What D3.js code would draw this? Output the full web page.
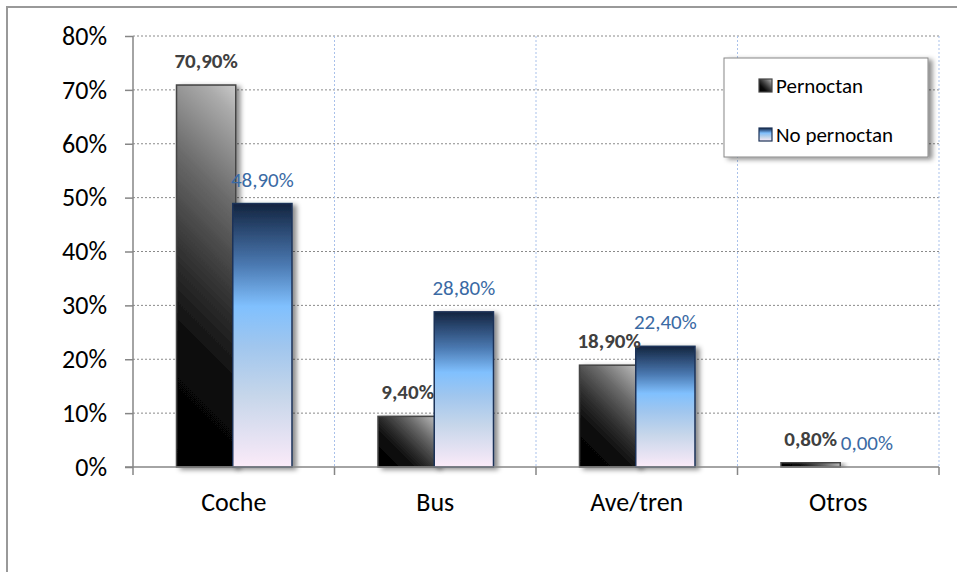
<!DOCTYPE html>
<html>
<head>
<meta charset="utf-8">
<script src="https://cdn.jsdelivr.net/npm/d3@7"></script>
<style>
	body { margin: 0; background: #fff; }
	svg { display: block; font-family: Carlito, Lato, "Open Sans", sans-serif; }
</style>
</head>
<body>
<svg width="957" height="572"></svg>
<script>
// data.......................................................................

var categories = ["Coche", "Bus", "Ave/tren", "Otros"],
	seriesNames = ["Pernoctan", "No pernoctan"],
	pernoctan = [0.709, 0.094, 0.189, 0.008],
	noPernoctan = [0.489, 0.288, 0.224, 0.000],
	yTicks = [0, 0.1, 0.2, 0.3, 0.4, 0.5, 0.6, 0.7, 0.8];

// setup......................................................................

var svg = d3.select("svg"),
	plotLeft = 133, plotRight = 939, plotTop = 36, plotBottom = 467,
	pctFmt = function(v) { return d3.format(".2f")(v * 100).replace(".", ",") + "%"; };

var x = d3.scaleBand().domain(categories).range([plotLeft, plotRight]),
	y = d3.scaleLinear().domain([0, 0.8]).range([plotBottom, plotTop]),
	bw = x.bandwidth() * 0.294;

var greyStops = [[0, "#cacaca"], [0.07, "#ababab"], [0.28, "#6a6a6a"], [0.5, "#333"],
		[0.7, "#0a0a0a"], [1, "#000"]],
	blueStops = [[0, "#13243f"], [0.1, "#2b4972"], [0.23, "#4a78b0"], [0.39, "#80c0fe"],
		[0.54, "#a0c6ee"], [0.73, "#c6d6ea"], [0.92, "#ebe4f4"], [1, "#fbebf8"]];

var defs = svg.append("defs");

function addStops(grad, stops) {
	stops.forEach(function(s) {
		grad.append("stop").attr("offset", s[0]).attr("stop-color", s[1]);
	});
}

// legend swatch gradients (square, bounding box)
addStops(defs.append("linearGradient").attr("id", "gradGrey")
	.attr("x1", 1).attr("y1", 0).attr("x2", 0).attr("y2", 1), greyStops);
addStops(defs.append("linearGradient").attr("id", "gradBlue")
	.attr("x1", 0).attr("y1", 0).attr("x2", 0).attr("y2", 1), blueStops);

function pernX(d) { return x(d) + x.bandwidth() / 2 - bw + 2; }
function noPernX(d) { return x(d) + x.bandwidth() / 2 - 1; }

// grey bars: fixed 45 degree gradient from top-right to bottom-left corner
categories.forEach(function(d, i) {
	var x0 = pernX(d), y0 = y(pernoctan[i]), h = plotBottom - y0, s = (bw + h) / 2;
	addStops(defs.append("linearGradient").attr("id", "gradGrey" + i)
		.attr("gradientUnits", "userSpaceOnUse")
		.attr("x1", x0 + bw).attr("y1", y0)
		.attr("x2", x0 + bw - s).attr("y2", y0 + s), greyStops);
});

var shadow = defs.append("filter").attr("id", "shadow")
	.attr("x", "-20%").attr("y", "-10%").attr("width", "160%").attr("height", "130%");
shadow.append("feDropShadow")
	.attr("dx", 4).attr("dy", 2).attr("stdDeviation", 2.5)
	.attr("flood-color", "#000").attr("flood-opacity", 0.45);

// outer frame
svg.append("rect")
	.attr("x", 7).attr("y", 7).attr("width", 1000).attr("height", 600)
	.attr("fill", "none").attr("stroke", "#999").attr("stroke-width", 2);

// gridlines..................................................................

svg.append("g").selectAll("line")
	.data(yTicks.slice(1))
	.enter().append("line")
		.attr("x1", plotLeft).attr("x2", plotRight)
		.attr("y1", function(d) { return y(d); })
		.attr("y2", function(d) { return y(d); })
		.attr("stroke", "#8a8a8a").attr("stroke-dasharray", "2,2");

svg.append("g").selectAll("line")
	.data(categories)
	.enter().append("line")
		.attr("x1", function(d) { return x(d) + x.bandwidth(); })
		.attr("x2", function(d) { return x(d) + x.bandwidth(); })
		.attr("y1", plotTop).attr("y2", plotBottom)
		.attr("stroke", "#a9c1ea").attr("stroke-dasharray", "2,2");

// bars.......................................................................

var groups = svg.append("g").selectAll("g")
	.data(categories)
	.enter().append("g");

groups.append("rect")
	.attr("x", pernX)
	.attr("y", function(d, i) { return y(pernoctan[i]); })
	.attr("width", bw)
	.attr("height", function(d, i) { return plotBottom - y(pernoctan[i]); })
	.attr("fill", function(d, i) { return "url(#gradGrey" + i + ")"; })
	.attr("stroke", "#444").attr("stroke-width", 1.5)
	.attr("filter", "url(#shadow)");

groups.append("rect")
	.attr("x", noPernX)
	.attr("y", function(d, i) { return y(noPernoctan[i]); })
	.attr("width", bw)
	.attr("height", function(d, i) { return plotBottom - y(noPernoctan[i]); })
	.attr("fill", "url(#gradBlue)")
	.attr("stroke", "#1c3358").attr("stroke-width", 1.5)
	.attr("filter", "url(#shadow)")
	.style("display", function(d, i) { return noPernoctan[i] > 0 ? null : "none"; });

// labels
groups.append("text")
	.attr("x", function(d) { return pernX(d) + bw / 2; })
	.attr("y", function(d, i) { return y(pernoctan[i]) - 17; })
	.attr("text-anchor", "middle")
	.attr("font-size", 21).attr("font-weight", "bold")
	.attr("fill", "#404040")
	.text(function(d, i) { return pctFmt(pernoctan[i]); });

groups.append("text")
	.attr("x", function(d) { return noPernX(d) + bw / 2; })
	.attr("y", function(d, i) { return y(noPernoctan[i]) - 17; })
	.attr("text-anchor", "middle")
	.attr("font-size", 21)
	.attr("fill", "#3a6aa4")
	.text(function(d, i) { return pctFmt(noPernoctan[i]); });

// axes.......................................................................

var yAxis = svg.append("g")
	.attr("transform", "translate(" + plotLeft + ",0)")
	.call(d3.axisLeft(y).tickValues(yTicks).tickSize(8).tickPadding(18)
		.tickFormat(d3.format(".0%")));

var xAxis = svg.append("g")
	.attr("transform", "translate(0," + plotBottom + ")")
	.call(d3.axisBottom(x).tickSize(0).tickPadding(26));

xAxis.selectAll(".tick").append("line")
	.attr("x1", x.bandwidth() / 2).attr("x2", x.bandwidth() / 2)
	.attr("y1", 0).attr("y2", 8)
	.attr("stroke", "#868686").attr("stroke-width", 1.5);

[yAxis, xAxis].forEach(function(a) {
	a.select(".domain").remove();
	a.selectAll(".tick line").attr("stroke", "#868686").attr("stroke-width", 1.5);
	a.selectAll("text").attr("font-size", 26).attr("fill", "#000")
		.style("font-family", "Carlito, Lato, sans-serif");
});

svg.append("line")
	.attr("x1", plotLeft).attr("x2", plotLeft).attr("y1", plotTop).attr("y2", plotBottom + 8)
	.attr("stroke", "#868686").attr("stroke-width", 1.5);
svg.append("line")
	.attr("x1", plotLeft - 8).attr("x2", plotRight).attr("y1", plotBottom).attr("y2", plotBottom)
	.attr("stroke", "#868686").attr("stroke-width", 1.5);

// legend.....................................................................

var legend = svg.append("g").attr("transform", "translate(724,58)");

legend.append("rect")
	.attr("width", 204).attr("height", 99)
	.attr("fill", "#fff").attr("stroke", "#888").attr("stroke-width", 1)
	.attr("filter", "url(#shadow)");

var items = legend.selectAll("g.item")
	.data(seriesNames)
	.enter().append("g")
		.attr("class", "item")
		.attr("transform", function(d, i) { return "translate(35," + (21 + i * 49) + ")"; });

items.append("rect")
	.attr("width", 13).attr("height", 13)
	.attr("fill", function(d, i) { return i ? "url(#gradBlue)" : "url(#gradGrey)"; })
	.attr("stroke", function(d, i) { return i ? "#1c3358" : "#444"; })
	.attr("stroke-width", 1.2);

items.append("text")
	.attr("x", 17).attr("y", 7).attr("dy", "0.35em")
	.attr("font-size", 21).attr("fill", "#000")
	.text(function(d) { return d; });
</script>
</body>
</html>
